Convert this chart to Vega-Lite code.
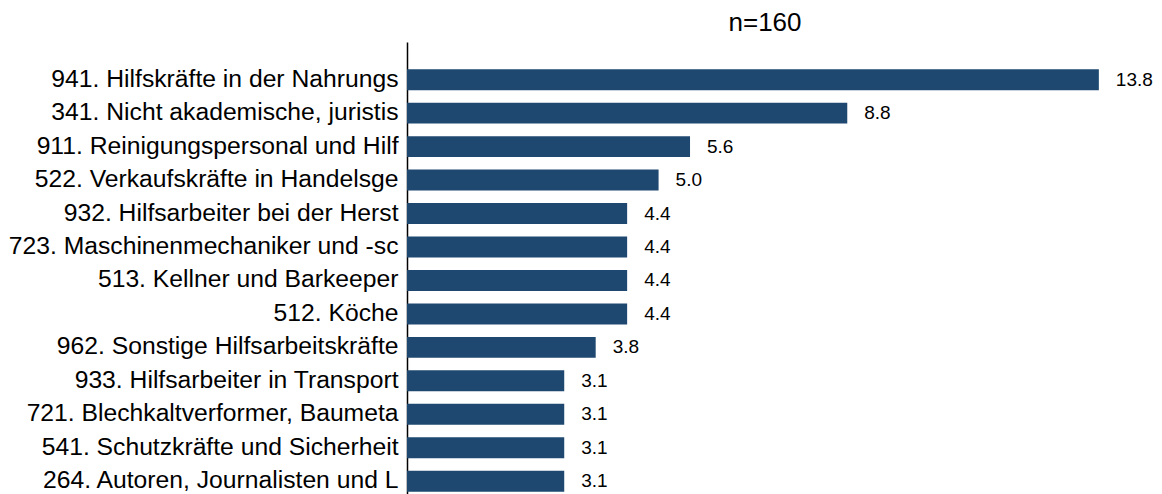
{
  "$schema": "https://vega.github.io/schema/vega-lite/v6.json",
  "autosize": {"type": "none"},
  "width": 716,
  "height": 452,
  "padding": {"left": 407, "top": 42, "right": 39, "bottom": 0},
  "background": "white",
  "title": {"text": "n=160", "font": "Liberation Sans", "fontSize": 26, "fontWeight": "normal", "color": "#000000", "anchor": "middle", "offset": 6},
  "data": {"values": [
    {"beruf": "941. Hilfskräfte in der Nahrungs", "anteil": 13.75},
    {"beruf": "341. Nicht akademische, juristis", "anteil": 8.75},
    {"beruf": "911. Reinigungspersonal und Hilf", "anteil": 5.625},
    {"beruf": "522. Verkaufskräfte in Handelsge", "anteil": 5.0},
    {"beruf": "932. Hilfsarbeiter bei der Herst", "anteil": 4.375},
    {"beruf": "723. Maschinenmechaniker und -sc", "anteil": 4.375},
    {"beruf": "513. Kellner und Barkeeper", "anteil": 4.375},
    {"beruf": "512. Köche", "anteil": 4.375},
    {"beruf": "962. Sonstige Hilfsarbeitskräfte", "anteil": 3.75},
    {"beruf": "933. Hilfsarbeiter in Transport", "anteil": 3.125},
    {"beruf": "721. Blechkaltverformer, Baumeta", "anteil": 3.125},
    {"beruf": "541. Schutzkräfte und Sicherheit", "anteil": 3.125},
    {"beruf": "264. Autoren, Journalisten und L", "anteil": 3.125}
  ]},
  "encoding": {
    "y": {
      "field": "beruf", "type": "nominal", "sort": null,
      "scale": {"paddingInner": 0.374, "paddingOuter": 0.441, "align": 0.922},
      "axis": {"title": null, "ticks": false, "labelPadding": 9, "labelFont": "Liberation Sans", "labelFontSize": 24.7, "labelColor": "#000000", "domainColor": "#000000", "domainWidth": 1.5, "labelLimit": 500, "grid": false}
    },
    "x": {
      "field": "anteil", "type": "quantitative",
      "scale": {"domain": [0, 14.23], "nice": false, "zero": true},
      "axis": null
    }
  },
  "layer": [
    {"mark": {"type": "bar", "color": "#1e4870"}},
    {"mark": {"type": "text", "align": "left", "baseline": "middle", "dx": 17, "font": "Liberation Sans", "fontSize": 19, "color": "#000000"},
     "encoding": {"text": {"field": "anteil", "type": "quantitative", "format": ".1f"}}}
  ],
  "config": {"view": {"stroke": null}}
}
